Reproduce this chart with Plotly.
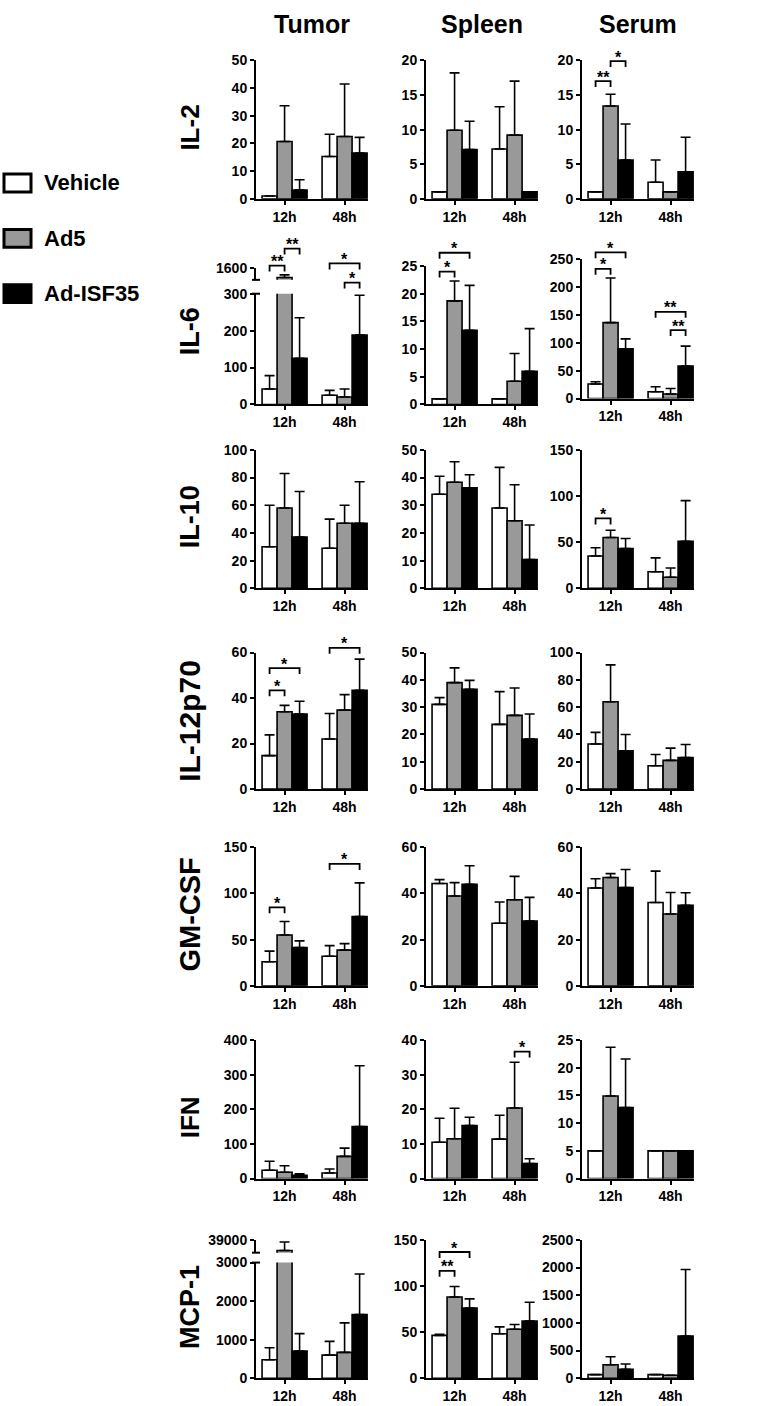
import plotly.graph_objects as go

# ---------------- data ----------------
tissues = ['Tumor', 'Spleen', 'Serum']
cytokines = ['IL-2', 'IL-6', 'IL-10', 'IL-12p70', 'GM-CSF', 'IFN', 'MCP-1']
timepoints = ['12h', '48h']
treatments = ['Vehicle', 'Ad5', 'Ad-ISF35']

# each array: rows = Vehicle, Ad5, Ad-ISF35 ; columns = 12h, 48h
il2_tumor_mean = [[1.0, 15.3], [20.7, 22.5], [3.2, 16.5]]
il2_tumor_err = [[0, 8.0], [12.9, 19.0], [3.7, 5.7]]
il2_spleen_mean = [[1.0, 7.2], [9.9, 9.2], [7.1, 1.0]]
il2_spleen_err = [[0, 6.1], [8.3, 7.8], [4.1, 0]]
il2_serum_mean = [[1.0, 2.4], [13.4, 1.0], [5.6, 3.9]]
il2_serum_err = [[0, 3.2], [1.7, 0], [5.2, 5.0]]

il6_tumor_mean = [[42, 25], [1440, 20], [125, 188]]
il6_tumor_err = [[36, 13], [45, 22], [110, 108]]
il6_spleen_mean = [[1.0, 1.0], [18.7, 4.2], [13.4, 6.0]]
il6_spleen_err = [[0, 0], [3.6, 5.0], [8.1, 7.7]]
il6_serum_mean = [[26, 12], [136, 8], [89, 58]]
il6_serum_err = [[4, 9], [80, 10], [18, 36]]

il10_tumor_mean = [[30, 29], [58, 47], [37, 47]]
il10_tumor_err = [[30, 21], [25, 13], [33, 30]]
il10_spleen_mean = [[34, 29], [38.3, 24.4], [36.3, 10.4]]
il10_spleen_err = [[6.5, 14.7], [7.4, 13], [4.7, 12.5]]
il10_serum_mean = [[35, 18], [55, 12], [43, 51]]
il10_serum_err = [[9, 15], [8, 10], [11, 44]]

il12_tumor_mean = [[14.7, 22], [34, 34.7], [33, 43.4]]
il12_tumor_err = [[9.1, 11.2], [2.8, 6.8], [5.6, 13.7]]
il12_spleen_mean = [[31, 23.7], [39, 27], [36.5, 18.3]]
il12_spleen_err = [[2.5, 12], [5.4, 10], [3.3, 9.2]]
il12_serum_mean = [[33, 17], [64, 21], [28, 23]]
il12_serum_err = [[8.5, 8.3], [27, 9], [12, 9.6]]

gmcsf_tumor_mean = [[26, 32], [55, 38.6], [41.4, 75]]
gmcsf_tumor_err = [[11.5, 11.5], [14.6, 7], [7.2, 36.5]]
gmcsf_spleen_mean = [[44.3, 27.1], [38.9, 37.3], [44, 28.1]]
gmcsf_spleen_err = [[1.7, 9.2], [5.8, 10.1], [8, 10.2]]
gmcsf_serum_mean = [[42.4, 36.1], [46.9, 31.1], [42.6, 34.9]]
gmcsf_serum_err = [[4, 13.6], [1.7, 9.3], [7.8, 5.4]]

ifn_tumor_mean = [[24, 16], [18, 64], [9.5, 150]]
ifn_tumor_err = [[26, 11.5], [19, 24], [4, 176]]
ifn_spleen_mean = [[10.5, 11.4], [11.5, 20.4], [15.3, 4.3]]
ifn_spleen_err = [[6.9, 6.9], [8.8, 13.2], [2.4, 1.4]]
ifn_serum_mean = [[5, 5], [14.9, 5], [12.8, 5]]
ifn_serum_err = [[0, 0], [8.8, 0], [8.8, 0]]

mcp1_tumor_mean = [[478, 600], [36500, 670], [704, 1652]]
mcp1_tumor_err = [[313, 357], [2000, 765], [453, 1052]]
mcp1_spleen_mean = [[46.4, 48.2], [88, 53], [76, 62]]
mcp1_spleen_err = [[1.1, 7.5], [11.4, 5.3], [10, 20.3]]
mcp1_serum_mean = [[65, 65], [244, 54], [160, 762]]
mcp1_serum_err = [[0, 0], [143, 0], [96, 1202]]

# y tick values (Tumor, Spleen, Serum)
il2_ticks = [[0, 10, 20, 30, 40, 50], [0, 5, 10, 15, 20], [0, 5, 10, 15, 20]]
il6_ticks = [[0, 100, 200, 300], [0, 5, 10, 15, 20, 25], [0, 50, 100, 150, 200, 250]]
il10_ticks = [[0, 20, 40, 60, 80, 100], [0, 10, 20, 30, 40, 50], [0, 50, 100, 150]]
il12_ticks = [[0, 20, 40, 60], [0, 10, 20, 30, 40, 50], [0, 20, 40, 60, 80, 100]]
gmcsf_ticks = [[0, 50, 100, 150], [0, 20, 40, 60], [0, 20, 40, 60]]
ifn_ticks = [[0, 100, 200, 300, 400], [0, 10, 20, 30, 40], [0, 5, 10, 15, 20, 25]]
mcp1_ticks = [[0, 1000, 2000, 3000], [0, 50, 100, 150], [0, 500, 1000, 1500, 2000, 2500]]

# broken-axis upper segments (Tumor IL-6, Tumor MCP-1)
il6_tumor_upper_range = [1400, 1600]
il6_tumor_upper_ticks = [1600]
mcp1_tumor_upper_range = [36000, 39000]
mcp1_tumor_upper_ticks = [39000]

# significance brackets: (cytokine, tissue, timepoint, treatment a, treatment b, height, label)
sig_cytokine = ['IL-2', 'IL-2', 'IL-6', 'IL-6', 'IL-6', 'IL-6', 'IL-6', 'IL-6', 'IL-6', 'IL-6',
                'IL-6', 'IL-6', 'IL-10', 'IL-12p70', 'IL-12p70', 'IL-12p70', 'GM-CSF', 'GM-CSF',
                'IFN', 'MCP-1', 'MCP-1']
sig_tissue = ['Serum', 'Serum', 'Tumor', 'Tumor', 'Tumor', 'Tumor', 'Spleen', 'Spleen', 'Serum', 'Serum',
              'Serum', 'Serum', 'Serum', 'Tumor', 'Tumor', 'Tumor', 'Tumor', 'Tumor',
              'Spleen', 'Spleen', 'Spleen']
sig_time = ['12h', '12h', '12h', '12h', '48h', '48h', '12h', '12h', '12h', '12h',
            '48h', '48h', '12h', '12h', '12h', '48h', '12h', '48h',
            '48h', '12h', '12h']
sig_a = ['Vehicle', 'Ad5', 'Vehicle', 'Ad5', 'Vehicle', 'Ad5', 'Vehicle', 'Vehicle', 'Vehicle', 'Vehicle',
         'Vehicle', 'Ad5', 'Vehicle', 'Vehicle', 'Vehicle', 'Vehicle', 'Vehicle', 'Vehicle',
         'Ad5', 'Vehicle', 'Vehicle']
sig_b = ['Ad5', 'Ad-ISF35', 'Ad5', 'Ad-ISF35', 'Ad-ISF35', 'Ad-ISF35', 'Ad5', 'Ad-ISF35', 'Ad5', 'Ad-ISF35',
         'Ad-ISF35', 'Ad-ISF35', 'Ad5', 'Ad5', 'Ad-ISF35', 'Ad-ISF35', 'Ad5', 'Ad-ISF35',
         'Ad-ISF35', 'Ad5', 'Ad-ISF35']
sig_height = [17.0, 19.9, 376, 422, 382, 330, 24.0, 27.4, 232.6, 262,
              155.5, 122.8, 75.7, 43.4, 53.2, 62.1, 85, 132,
              36.7, 116.4, 136.8]
sig_label = ['**', '*', '**', '**', '*', '*', '*', '*', '*', '*',
             '**', '**', '*', '*', '*', '*', '*', '*',
             '*', '**', '*']

DATA = {
    'IL-2': ([il2_tumor_mean, il2_spleen_mean, il2_serum_mean], [il2_tumor_err, il2_spleen_err, il2_serum_err], il2_ticks),
    'IL-6': ([il6_tumor_mean, il6_spleen_mean, il6_serum_mean], [il6_tumor_err, il6_spleen_err, il6_serum_err], il6_ticks),
    'IL-10': ([il10_tumor_mean, il10_spleen_mean, il10_serum_mean], [il10_tumor_err, il10_spleen_err, il10_serum_err], il10_ticks),
    'IL-12p70': ([il12_tumor_mean, il12_spleen_mean, il12_serum_mean], [il12_tumor_err, il12_spleen_err, il12_serum_err], il12_ticks),
    'GM-CSF': ([gmcsf_tumor_mean, gmcsf_spleen_mean, gmcsf_serum_mean], [gmcsf_tumor_err, gmcsf_spleen_err, gmcsf_serum_err], gmcsf_ticks),
    'IFN': ([ifn_tumor_mean, ifn_spleen_mean, ifn_serum_mean], [ifn_tumor_err, ifn_spleen_err, ifn_serum_err], ifn_ticks),
    'MCP-1': ([mcp1_tumor_mean, mcp1_spleen_mean, mcp1_serum_mean], [mcp1_tumor_err, mcp1_spleen_err, mcp1_serum_err], mcp1_ticks),
}
UPPER = {
    ('IL-6', 'Tumor'): (il6_tumor_upper_range, il6_tumor_upper_ticks),
    ('MCP-1', 'Tumor'): (mcp1_tumor_upper_range, mcp1_tumor_upper_ticks),
}

# ---------------- layout geometry ----------------
W, H = 760, 1406
FONT = 'Liberation Sans, Arial, Helvetica, sans-serif'
COLORS = ['white', '#999999', 'black']
COL_X = [(256, 368), (426, 538), (582, 694)]
ROW_Y = [(53, 193), (261, 401), (447, 587), (652, 790), (849, 989), (1044, 1184), (1246, 1386)]
PANEL_Y_OVERRIDE = {(1, 0): (289, 401), (1, 2): (254, 395), (6, 0): (1269, 1386)}
UPPER_Y = {(1, 0): (263, 275), (6, 0): (1246, 1259)}
XR = [-0.476, 1.39]
BW = 0.25
OFFS = {'Vehicle': -0.25, 'Ad5': 0.0, 'Ad-ISF35': 0.25}
ROW_LABEL_Y = [121, 327, 515, 721, 917, 1122, 1314]
ROW_LABEL_SIZE = [26, 27, 27, 30, 29, 26, 27]
HEADER_X = [312, 482, 638]


def fx(px):
    return px / W


def fy(py):
    return 1 - py / H


def panel_y(r, c):
    return PANEL_Y_OVERRIDE.get((r, c), ROW_Y[r])


TICKFONT = dict(family=FONT, size=14, color='black', weight='bold')
AXLINE = dict(showline=True, linecolor='black', linewidth=2, ticks='outside', ticklen=4,
              tickwidth=2, tickcolor='black', showgrid=False, zeroline=False, fixedrange=True,
              tickfont=TICKFONT)

fig = go.Figure()
layout = {}
shapes = []
annotations = []
ymax_of = {}

upper_idx = 22
for r, cyt in enumerate(cytokines):
    means_all, errs_all, ticks_all = DATA[cyt]
    for c, tis in enumerate(tissues):
        k = r * 3 + c + 1
        xa = 'x' if k == 1 else f'x{k}'
        ya = 'y' if k == 1 else f'y{k}'
        means, errs, ticks = means_all[c], errs_all[c], ticks_all[c]
        x0, x1 = COL_X[c]
        yt, yb = panel_y(r, c)
        ymax_of[(cyt, tis)] = max(ticks)
        for i, tr in enumerate(treatments):
            fig.add_trace(go.Bar(
                x=timepoints, y=means[i], name=tr, width=BW, offsetgroup=tr,
                marker=dict(color=COLORS[i], line=dict(color='black', width=1.6)),
                error_y=dict(type='data', array=errs[i], arrayminus=[0, 0], symmetric=False,
                             color='black', thickness=1.6, width=5),
                xaxis=xa, yaxis=ya, showlegend=False, hoverinfo='skip'))
        layout['xaxis' if k == 1 else f'xaxis{k}'] = dict(
            AXLINE, domain=[fx(x0), fx(x1)], range=XR, anchor=ya, type='category',
            categoryorder='array', categoryarray=timepoints)
        layout['yaxis' if k == 1 else f'yaxis{k}'] = dict(
            AXLINE, domain=[fy(yb), fy(yt)], range=[0, max(ticks)], anchor=xa,
            tickmode='array', tickvals=ticks, ticktext=[str(t) for t in ticks])

        if (cyt, tis) in UPPER:
            urange, uticks = UPPER[(cyt, tis)]
            ut, ub = UPPER_Y[(r, c)]
            yu = f'y{upper_idx}'
            i = treatments.index('Ad5')
            fig.add_trace(go.Bar(
                x=timepoints, y=means[i], name='Ad5', width=BW, offsetgroup='Ad5',
                marker=dict(color=COLORS[i], line=dict(color='black', width=1.6)),
                error_y=dict(type='data', array=errs[i], arrayminus=[0, 0], symmetric=False,
                             color='black', thickness=1.6, width=5),
                xaxis=xa, yaxis=yu, showlegend=False, hoverinfo='skip'))
            layout[f'yaxis{upper_idx}'] = dict(
                AXLINE, domain=[fy(ub), fy(ut)], range=urange, anchor=xa,
                tickmode='array', tickvals=uticks, ticktext=[str(t) for t in uticks])
            # break caps
            for yy in (ub, yt):
                shapes.append(dict(type='line', xref='paper', yref='paper',
                                   x0=fx(x0 - 4), x1=fx(x0 + 4), y0=fy(yy), y1=fy(yy),
                                   line=dict(color='black', width=2)))
            upper_idx += 1

# significance brackets
CAT_POS = {t: i for i, t in enumerate(timepoints)}
for cyt, tis, tp, a, b, hgt, lab in zip(sig_cytokine, sig_tissue, sig_time, sig_a, sig_b, sig_height, sig_label):
    r = cytokines.index(cyt)
    c = tissues.index(tis)
    x0, x1 = COL_X[c]
    yt, yb = panel_y(r, c)
    ymax = ymax_of[(cyt, tis)]

    def dx(v):
        return x0 + (v - XR[0]) / (XR[1] - XR[0]) * (x1 - x0)

    pa = dx(CAT_POS[tp] + OFFS[a])
    pb = dx(CAT_POS[tp] + OFFS[b])
    py = yb - hgt / ymax * (yb - yt)
    leg = 6
    path = (f'M {fx(pa)} {fy(py + leg)} L {fx(pa)} {fy(py)} '
            f'L {fx(pb)} {fy(py)} L {fx(pb)} {fy(py + leg)}')
    shapes.append(dict(type='path', xref='paper', yref='paper', path=path,
                       line=dict(color='black', width=1.8)))
    annotations.append(dict(text=f'<b>{lab}</b>', xref='paper', yref='paper',
                            x=fx((pa + pb) / 2), y=fy(py), xanchor='center', yanchor='middle',
                            yshift=4, showarrow=False,
                            font=dict(family=FONT, size=16, color='black')))

# column headers
for c, tis in enumerate(tissues):
    annotations.append(dict(text=f'<b>{tis}</b>', xref='paper', yref='paper',
                            x=fx(HEADER_X[c]), y=fy(16), xanchor='center', yanchor='middle',
                            showarrow=False, font=dict(family=FONT, size=25, color='black')))

# row labels
for r, cyt in enumerate(cytokines):
    annotations.append(dict(text=f'<b>{cyt}</b>', xref='paper', yref='paper',
                            x=fx(190), y=fy(ROW_LABEL_Y[r]), xanchor='center', yanchor='middle',
                            textangle=-90, showarrow=False,
                            font=dict(family=FONT, size=ROW_LABEL_SIZE[r], color='black')))

# legend
LEG_Y = [177, 233, 289]
for i, tr in enumerate(treatments):
    yc = LEG_Y[i]
    shapes.append(dict(type='rect', xref='paper', yref='paper',
                       x0=fx(4), x1=fx(31), y0=fy(yc + 9), y1=fy(yc - 9),
                       fillcolor=COLORS[i], line=dict(color='black', width=3)))
    annotations.append(dict(text=f'<b>{tr}</b>', xref='paper', yref='paper',
                            x=fx(42), y=fy(yc), xanchor='left', yanchor='middle',
                            showarrow=False, font=dict(family=FONT, size=22, color='black')))

fig.update_layout(
    width=W, height=H, margin=dict(l=0, r=0, t=0, b=0),
    paper_bgcolor='white', plot_bgcolor='white',
    barmode='group', bargap=0.25, bargroupgap=0,
    shapes=shapes, annotations=annotations, showlegend=False,
    **layout)

fig.write_html('out.html', config={'displayModeBar': False},
               post_script="document.body.style.margin='0';document.body.style.padding='0';")
